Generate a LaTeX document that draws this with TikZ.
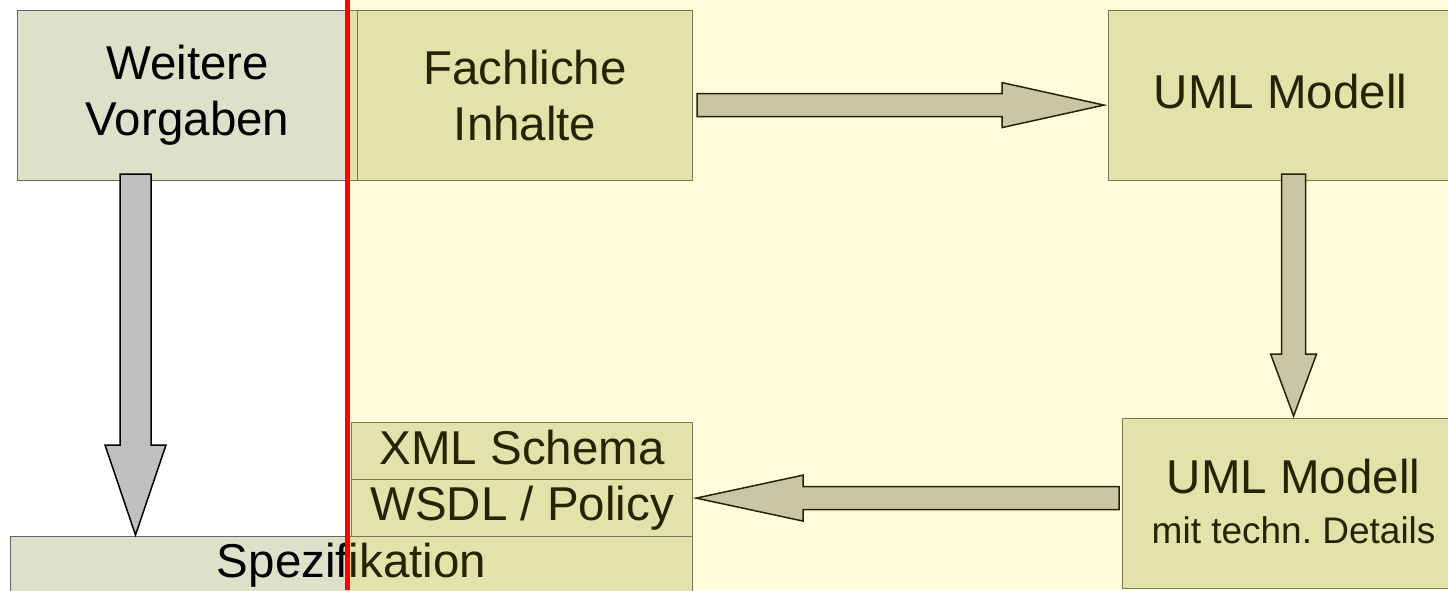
\documentclass[tikz,border=0pt]{standalone}
\usepackage{fontspec}
\setmainfont{Liberation Sans}
\usetikzlibrary{calc}
\definecolor{boxfill}{RGB}{222,224,202}
\definecolor{boxline}{RGB}{100,100,100}
\definecolor{arrowfill}{RGB}{192,192,192}
\newcommand\bigtext{\fontsize{47.5}{56}\selectfont}
\newcommand\smalltext{\fontsize{37}{44}\selectfont}
\tikzstyle{box}=[draw=boxline,line width=1.2pt,fill=boxfill,inner sep=0pt,anchor=north west,align=center,font=\bigtext]
\tikzstyle{fat}=[draw=black,line width=1.5pt,fill=arrowfill,line join=miter]
% block arrow: from, to, shaft half width, head half width, head length
\newcommand\fatarrow[5]{%
  \coordinate (fahead) at ($(#2)!#5!(#1)$);
  \draw[fat] ($(#1)!#3!90:(#2)$) -- ($(fahead)!#3!-90:(#1)$) -- ($(fahead)!#4!-90:(#1)$) -- (#2)
    -- ($(fahead)!#4!90:(#1)$) -- ($(fahead)!#3!90:(#1)$) -- ($(#1)!#3!-90:(#2)$) -- cycle;
}

\begin{document}
\begin{tikzpicture}[x=1pt,y=-1pt]
	\useasboundingbox (0,0) rectangle (1448,590);
	\node[box,minimum width=340,minimum height=170] (weit) at (17,10)  {Weitere\\Vorgaben};
	\node[box,minimum width=335,minimum height=170] (fach) at (357,10) {Fachliche\\Inhalte};
	\node[box,minimum width=344,minimum height=170,text depth=8pt] (umlA) at (1108,10) {UML Modell};
	\node[box,minimum width=342,minimum height=170] (umlB) at (1122,418) {};
	\node[anchor=base,font=\bigtext]   (umlBa) at ($(umlB.north)+(0,75)$)  {UML Modell};
	\node[anchor=base,font=\smalltext] (umlBb) at ($(umlB.north)+(0,125)$) {mit techn.\ Details};
	%
	\node[box,minimum width=341,minimum height=57,text depth=7pt] (xml)  at (351,422) {XML Schema};
	\node[box,minimum width=341,minimum height=57] (wsdl) at (351,479) {WSDL / Policy};
	\node[box,minimum width=682,text height=41pt,text depth=40pt] (spez) at (10,536) {Spezifikation};
%
	\coordinate (a1s) at ($(fach.east)+(4,9.5)$);
	\coordinate (a1e) at ($(umlA.west)+(-4,9.5)$);
	\coordinate (a2s) at ($(umlA.south)+(13,-7)$);
	\coordinate (a2e) at ($(umlB.north)+(0,-2)$);
	\coordinate (a3s) at ($(umlB.west)+(-3,-5.5)$);
	\coordinate (a3e) at ($(wsdl.east)+(3,-10)$);
	\coordinate (a4s) at ($(weit.south west)+(118.5,-7)$);
	\coordinate (a4e) at ($(spez.north west)+(125.5,-1)$);
	\fatarrow{a1s}{a1e}{11.5pt}{22.5pt}{102pt}
	\fatarrow{a2s}{a2e}{12pt}{23pt}{62pt}
	\fatarrow{a3s}{a3e}{11.5pt}{23pt}{107pt}
	\fatarrow{a4s}{a4e}{15.5pt}{30.5pt}{90pt}
%
	\fill[yellow,fill opacity=0.15] (350,0) rectangle (1448,590);
	\draw[red,line width=5pt] (347,0) -- (347,590);
\end{tikzpicture}
\end{document}
